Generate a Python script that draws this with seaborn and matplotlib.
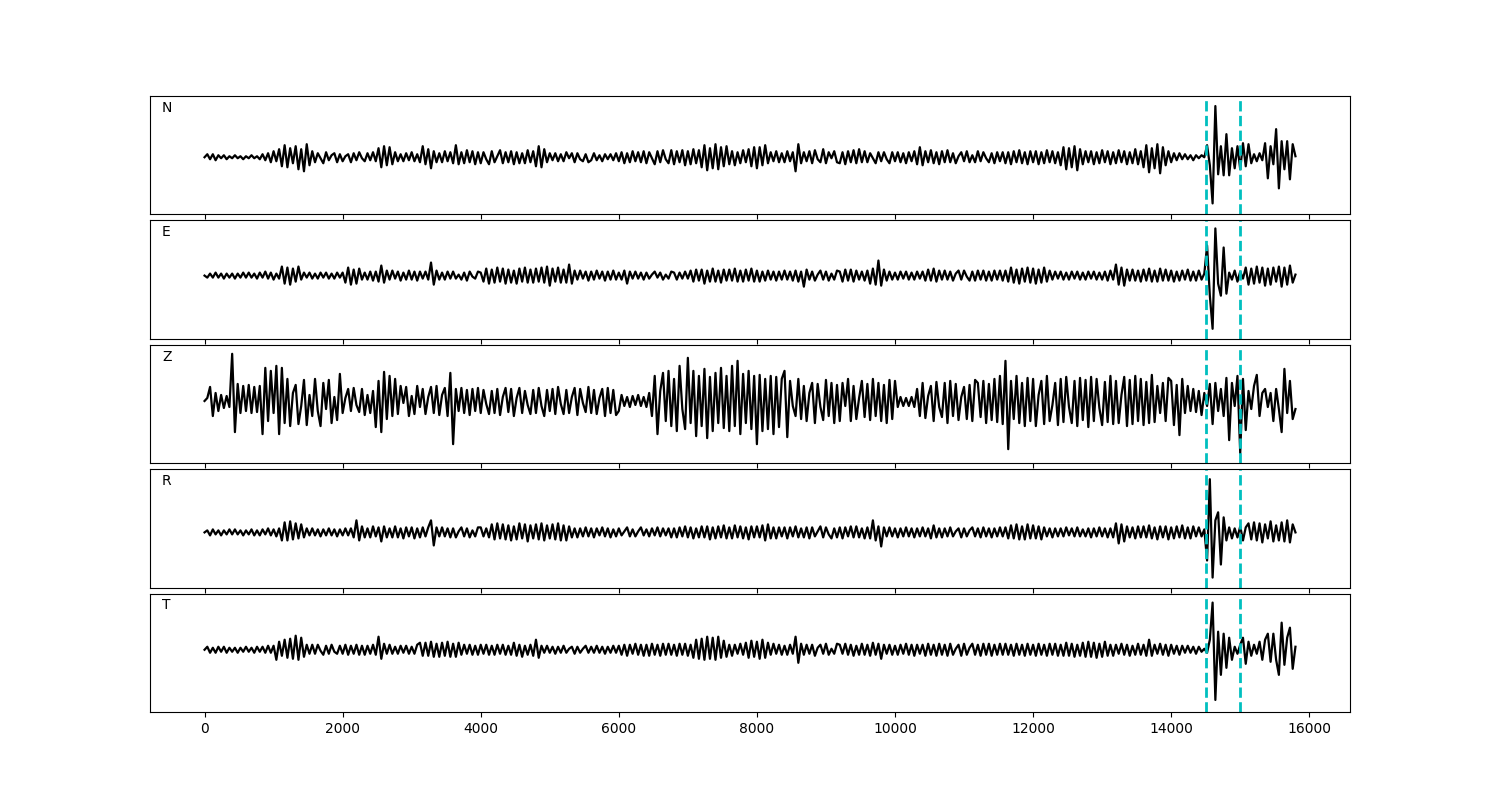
import numpy as np
import matplotlib
matplotlib.use('Agg')
import matplotlib.pyplot as plt
import seaborn as sns

# sample index of every value below (one value every 40 samples, 0..15800)
samples = np.arange(0, 15801, 40)

# amplitudes (pixel units above/below the trace baseline)
n_trace = [
    0, 3, -2, 3, -3, 2, -1, 2, -2, 1,
    -1, 2, -1, 1, -2, 1, -1, 2, -1, 1,
    -2, 3, -3, 4, -5, 6, -4, 8, -9, 12,
    -10, 9, -6, 11, -12, 8, -14, 13, -8, 6,
    -5, 4, -1, -6, 5, -3, 2, 4, -5, 3,
    -4, 1, 3, -5, 4, -3, 5, -1, -4, 4,
    -3, 5, -4, 9, -10, 11, -8, 10, -7, 5,
    -4, 3, -4, 4, -3, 5, -4, 3, -5, 11,
    -7, 8, -11, 6, -5, 4, -5, 6, -4, 5,
    -6, 12, -7, 5, -6, 7, -5, 6, -7, 5,
    -6, 5, -2, -7, 6, -5, 1, 7, -6, 5,
    -5, 6, -7, 5, -6, 4, -6, 7, -5, 6,
    -9, 11, -10, 8, -5, 4, -3, 4, -4, 3,
    -4, 5, -1, 4, -5, 4, -2, -4, 3, -5,
    -3, 4, -3, 2, -4, 3, -2, 3, -3, 4,
    -4, 5, -6, 4, -5, 6, -4, 5, -5, 6,
    -6, 5, -1, -7, 6, -5, 7, -2, -6, 7,
    -7, 6, -5, 7, -8, 6, -7, 8, -6, 7,
    -10, 12, -13, 9, -11, 13, -12, 10, -9, 11,
    -7, 6, -8, 5, -6, 7, -5, 8, -9, 10,
    -11, 10, -8, 12, -6, 5, -4, 6, -5, 4,
    -5, 6, -4, 5, -14, 13, -6, 5, -4, 6,
    -6, 7, -2, -5, 8, -6, 5, -1, 6, -5,
    -6, 5, -7, 6, -5, 7, -6, 8, -5, 6,
    -5, 4, -1, -6, 5, -4, 5, -2, -6, 5,
    -4, 5, -5, 4, -6, 5, -4, 6, -7, 10,
    -8, 6, -5, 7, -6, 5, -7, 6, -5, 7,
    -5, 4, -6, 1, 5, -4, 6, -5, 2, -5,
    6, -4, 5, -1, -5, 4, -6, 5, -4, 5,
    -6, 5, -7, 6, -5, 7, -6, 5, -7, 6,
    -5, 6, -7, 5, -6, 7, -5, 6, -6, 5,
    -8, 10, -12, 9, -10, 11, -13, 8, -7, 6,
    -5, 6, -7, 5, -6, 7, -5, 6, -7, 5,
    -6, 7, -5, 6, -7, 5, -6, 8, -7, 6,
    -10, 12, -15, 9, -11, 13, -16, 10, -8, 6,
    -5, 4, -3, 4, -2, 3, -2, 2, -3, 2,
    -1, 2, 0, 12, -8, -46, 51, -17, 11, -18,
    23, -18, 9, -11, 11, -12, 14, -9, 13, -6,
    3, -4, 4, -3, 14, -21, 11, -7, 28, -31,
    16, -12, 16, -22, 13, 1,
]

e_trace = [
    0, -2, 2, -2, 3, -2, 2, -3, 2, -2,
    2, -3, 2, -2, 3, -2, 3, -2, 2, -3,
    3, -2, 4, -3, 3, -4, 2, -3, 9, -8,
    8, -9, 7, -6, 9, -4, 3, -2, 3, -3,
    2, -3, 3, -2, 3, -3, 2, -3, 3, -2,
    3, -7, 8, -9, 6, -8, 7, -4, 3, -4,
    4, -5, 4, -6, 10, -7, 5, -4, 5, -3,
    4, -5, 3, -4, 5, -4, 4, -5, 4, -3,
    4, -4, 13, -9, 5, -4, 3, -4, 4, -3,
    4, -3, 1, -4, 3, -5, 4, -1, -3, 4,
    3, -6, 7, -8, 6, -7, 8, -6, 7, -8,
    6, -7, 5, -8, 7, -6, 8, -7, 6, -7,
    7, -6, 8, -7, 9, -10, 7, -6, 8, -7,
    6, -7, 11, -8, 5, -4, 5, -3, 4, -5,
    4, -4, 5, -3, 4, -5, 4, -4, 5, -4,
    3, -4, 5, -8, 4, -3, 4, -3, 3, -4,
    3, -3, 1, 4, -2, 3, -4, 1, -3, 4,
    3, -4, 3, -3, 4, -3, 5, -6, 6, -5,
    6, -8, 5, -6, 7, -6, 5, -7, 6, -5,
    6, -5, 7, -6, 5, -6, 6, -5, 7, -6,
    5, -6, 4, -5, 5, -4, 4, -5, 4, -4,
    5, -4, 4, -5, 5, -6, 4, -11, 6, -4,
    4, -5, 1, 5, -4, 4, -5, 2, -4, 5,
    4, -6, 6, -5, 6, -6, 5, -4, 4, -5,
    5, -8, 7, -9, 15, -10, 6, -5, 4, -4,
    3, -4, 4, -3, 4, -4, 3, -4, 4, -3,
    4, -5, 6, -5, 7, -6, 5, -4, 5, -4,
    4, -5, 2, 5, -4, 5, -1, -5, 4, -5,
    5, -4, 5, -5, 4, -5, 5, -4, 5, -5,
    5, -6, 8, -7, 6, -8, 7, -6, 8, -7,
    7, -8, 6, -7, 8, -6, 5, -4, 4, -3,
    4, -4, 3, -4, 4, -3, 4, -4, 3, -4,
    4, -3, 4, -4, 3, -4, 4, -5, 5, -4,
    11, -9, 8, -10, 6, -5, 6, -5, 5, -6,
    6, -5, 7, -6, 5, -6, 7, -5, 6, -5,
    5, -6, 4, -5, 5, -4, 6, -5, 4, -5,
    5, -4, 2, 30, -20, -53, 47, -8, -20, 28,
    -18, 3, -4, 5, -6, 4, -3, 8, -9, 7,
    -8, 9, -7, 8, -10, 7, -9, 8, -6, 9,
    -11, 8, -9, 10, -7, 1,
]

z_trace = [
    0, 3, 14, -15, 8, -10, 6, -7, 5, -6,
    47, -31, 17, -12, 15, -10, 16, -12, 14, -11,
    15, -33, 33, -20, 30, -12, 35, -33, 33, -22,
    22, -25, 8, 16, -23, -5, 21, -24, 6, -15,
    22, -10, -25, 18, -8, 21, -22, 4, -19, 27,
    -12, 3, 12, -10, 13, -4, -11, 12, -14, 6,
    -12, 10, -26, 20, -31, 29, -18, 25, -15, 22,
    -13, 15, -2, 14, -15, 5, -13, 15, -6, 12,
    -13, 4, 14, -12, 15, -14, 6, 13, -15, 28,
    -43, 12, -10, 13, -12, 11, -14, 12, -10, 13,
    -12, 11, -3, -13, 10, -12, 12, -14, 4, 13,
    -11, 12, -15, 3, 13, -12, 10, -4, -13, 11,
    -12, 13, -5, -15, 11, -10, 12, -13, 14, -3,
    -13, 11, -12, 4, 13, -14, 12, -2, -11, 14,
    -12, 11, -13, 3, 12, -15, 13, -12, 11, -14,
    -10, 6, -5, 4, -6, 5, -4, 6, -5, 4,
    -6, 8, -15, 25, -33, 10, 28, -20, 30, -25,
    22, -30, 35, -8, -28, 43, -22, 30, -35, 25,
    -25, 32, -37, 24, -30, 28, -22, 33, -27, 25,
    -30, 35, -25, 40, -33, 27, -22, 30, -28, 25,
    -43, 26, -30, 22, -28, 25, -33, 24, -26, 22,
    30, -36, 20, -5, -15, 22, -18, 15, -20, 8,
    18, -22, 17, -6, -19, 21, -15, 18, -22, 16,
    -20, 18, -5, 22, -20, 15, -18, 3, 20, -16,
    17, -19, 22, -15, 18, -20, 16, -22, 21, -18,
    20, -6, 4, -5, 3, -5, 4, -6, 12, -15,
    18, -17, 5, 15, -20, 19, -6, -16, 18, -22,
    20, -15, 17, -19, 4, 14, -18, 16, -20, 21,
    18, -16, 20, -22, 17, -19, 22, -21, 25, -23,
    40, -48, 20, -18, 25, -22, 18, -25, 23, -20,
    22, -25, 6, 20, -23, 25, -20, -4, 18, -24,
    22, -21, 24, -6, -22, 20, -25, 23, -19, 21,
    -26, 24, -20, 22, -7, -24, 19, -21, 25, -23,
    20, -22, 6, 24, -25, 21, -23, 25, -20, 22,
    -24, 19, -22, 26, -21, 15, -12, 18, -20, 23,
    20, -24, 16, -34, 22, -12, 15, -10, 12, -11,
    10, -14, 8, -5, 17, -23, 18, -10, 12, -15,
    23, -39, 18, -5, 25, -52, 22, -29, 10, -8,
    15, 26, -15, 8, 12, -6, 8, -20, 12, -8,
    -31, 32, -12, 20, -18, -8,
]

r_trace = [
    0, 2, -3, 3, -2, 2, -3, 2, -2, 3,
    -2, 3, -2, 2, -3, 2, -2, 3, -3, 2,
    -3, 3, -2, 4, -3, 3, -4, 4, -8, 10,
    -8, 11, -7, 9, -6, 8, -5, 4, -3, 4,
    -3, 3, -4, 3, -3, 4, -3, 3, -4, 3,
    -3, 4, -3, 4, -5, 12, -8, 6, -5, 4,
    -5, 6, -4, 5, -9, 6, -5, 4, -5, 6,
    -5, 4, -6, 5, -4, 5, -6, 4, -5, 5,
    -4, 5, 12, -13, 5, -4, 5, -4, 4, -5,
    4, -5, 1, 5, -4, 4, -5, 2, -4, 5,
    5, -4, 4, -5, 8, -7, 9, -6, 8, -7,
    7, -8, 6, -7, 9, -6, 8, -9, 7, -6,
    8, -7, 9, -8, 7, -6, 8, -7, 9, -8,
    7, -8, 6, -5, 4, -5, 4, -4, 5, -4,
    4, -5, 4, -3, 5, -4, 4, -5, 3, -4,
    4, -3, 1, 5, -4, 3, -4, 1, 5, -3,
    3, -4, 4, -3, 5, -4, 4, -3, 4, -5,
    4, -5, 5, -4, 6, -5, 5, -6, 4, -5,
    6, -5, 6, -7, 5, -6, 6, -5, 7, -6,
    5, -6, 7, -5, 6, -6, 5, -7, 6, -5,
    6, -5, 7, -8, 8, -6, 5, -6, 5, -4,
    5, -6, 5, -4, 6, -5, 4, -5, 5, -6,
    5, -4, 1, 6, -5, 5, -2, -6, 4, -5,
    5, -6, 5, -4, 6, -5, 6, -5, 4, -6,
    5, -6, 12, -8, 6, -14, 5, -4, 5, -4,
    4, -5, 4, -4, 5, -4, 4, -5, 4, -4,
    5, -4, 4, -6, 7, -5, 4, -5, 4, -4,
    5, -4, 1, 4, -5, 4, -4, 2, 5, -4,
    4, -5, 5, -4, 4, -5, 4, -4, 5, -4,
    5, -6, 7, -6, 8, -7, 6, -7, 8, -6,
    7, -6, 6, -7, 5, -4, 4, -5, 4, -4,
    4, -4, 5, -3, 4, -4, 5, -4, 3, -4,
    4, -5, 4, -4, 5, -4, 4, -5, 4, -5,
    9, -11, 8, -9, 6, -5, 5, -6, 6, -5,
    6, -5, 7, -6, 5, -7, 6, -5, 6, -7,
    5, -6, 6, -5, 7, -6, 5, -6, 6, -4,
    5, -4, 3, -28, 53, -45, 12, 20, -32, 15,
    -8, 5, -6, 4, -5, 6, -8, 5, 9, -7,
    10, -8, 9, -10, 8, -6, 11, -9, 7, -8,
    10, -9, 12, -10, 8, 0,
]

t_trace = [
    0, 3, -3, 2, -3, 3, -2, 3, -3, 2,
    -2, 2, -3, 2, -2, 3, -2, 2, -3, 3,
    -2, 3, -3, 4, -3, 4, -10, 8, -6, 10,
    -8, 11, -9, 14, -10, 12, -7, 5, -4, 5,
    -4, 5, -1, -5, 4, -4, 5, -2, -4, 4,
    -4, 5, -5, 4, -4, 5, -5, 4, -5, 4,
    -4, 5, -5, 13, -9, 6, -4, 5, -4, 3,
    -4, 4, -3, 4, -4, 3, -4, 5, 7, -6,
    7, -6, 8, -7, 6, -7, 7, -6, 8, -7,
    6, -7, 7, -5, 5, -4, 5, -5, 4, -5,
    5, -4, 5, -5, 4, -5, 5, -4, 5, -5,
    4, -5, 7, -6, 5, -7, 4, -5, 5, -6,
    10, -8, 4, -3, 4, -3, 3, -4, 3, -3,
    4, -3, 1, 3, -4, 3, -3, 1, 4, -3,
    3, -3, 4, -3, 3, -4, 3, -3, 4, -3,
    4, -5, 5, -6, 5, -4, 6, -5, 5, -6,
    5, -6, 6, -5, 5, -6, 6, -5, 6, -5,
    5, -6, 6, -5, 6, -6, 5, -8, 10, -9,
    11, -10, 13, -9, 12, -10, 13, -8, 9, -7,
    5, -6, 5, -4, 6, -5, 7, -8, 9, -7,
    8, -9, 10, -8, 7, -5, 6, -4, 5, -5,
    4, -5, 5, -4, 13, -13, 6, -5, 5, -4,
    5, -6, 2, 5, -4, 6, -5, 1, -4, 6,
    5, -4, 6, -5, 5, -6, 4, -5, 6, -5,
    5, -6, 7, -5, 6, -9, 5, -4, 5, -5,
    4, -5, 5, -4, 6, -5, 5, -6, 5, -4,
    5, -6, 6, -5, 5, -6, 6, -5, 5, -6,
    6, -5, 1, 5, -6, 6, -5, 2, 6, -5,
    5, -6, 6, -5, 6, -6, 5, -5, 6, -5,
    6, -5, 5, -6, 6, -5, 5, -6, 6, -5,
    5, -6, 6, -5, 5, -6, 6, -5, 6, -6,
    5, -6, 7, -6, 6, -7, 5, -6, 7, -7,
    8, -7, 7, -8, 6, -7, 8, -6, 5, -6,
    5, -4, 6, -5, 5, -6, 4, -5, 6, -5,
    5, -6, 10, -6, 5, -4, 6, -5, 5, -6,
    5, -4, 4, -5, 4, -3, 4, -3, 3, -4,
    3, -2, 1, -3, 10, 47, -50, 18, -25, 16,
    -18, 12, -10, 3, -4, 5, 12, -14, 8, -6,
    5, -4, 8, -10, 10, 16, -12, 16, -10, -25,
    27, -15, 12, 22, -19, 3,
]

components = ['N', 'E', 'Z', 'R', 'T']
traces = [n_trace, e_trace, z_trace, r_trace, t_trace]
# y range of each panel, in the same pixel units as the traces
ylims = [(-57, 61), (-63, 55), (-62, 56), (-55, 63), (-62, 56)]
picks = [14500, 15000]


def plot_traces():
    fig, axarr = plt.subplots(5, 1, sharex=True, figsize=(15, 8))
    fig.subplots_adjust(left=0.1, right=0.9, top=0.88, bottom=0.11, hspace=0.05)

    for ax, name, trace, lim in zip(axarr, components, traces, ylims):
        sns.lineplot(x=samples, y=trace, color='k', linewidth=1.6, ax=ax)
        for p in picks:
            ax.axvline(p, color='c', linestyle='--', linewidth=2)
        ax.set_ylim(lim)
        ax.set_yticks([])
        ax.set_ylabel('')
        ax.text(0.01, 0.9, name, transform=ax.transAxes, ha='left', va='center')

    fig.savefig('out.png', dpi=100)


if __name__ == '__main__':
    plot_traces()
